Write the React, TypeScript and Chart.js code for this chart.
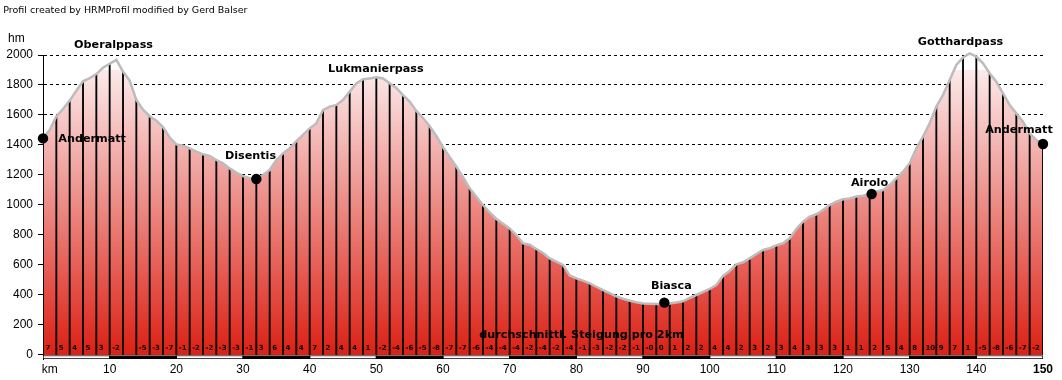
import React, { useEffect, useRef } from 'react';
import { Chart, registerables } from 'chart.js';

Chart.register(...registerables);

// ---------------- data ----------------
const chartTitle = 'Profil created by HRMProfil modified by Gerd Balser';
const yUnit = 'hm';
const footLabel = 'durchschnittl. Steigung pro 2km';

// elevation (m) at every km, km 0 ... 150
const elevations = [
  1444, 1500, 1590, 1640, 1696, 1762, 1825, 1845, 1873, 1915,
  1942, 1968, 1890, 1830, 1700, 1635, 1592, 1562, 1520, 1450,
  1404, 1396, 1378, 1356, 1338, 1327, 1300, 1278, 1244, 1216,
  1193, 1178, 1175, 1200, 1233, 1300, 1344, 1378, 1425, 1467,
  1511, 1544, 1633, 1656, 1667, 1700, 1756, 1811, 1838, 1844,
  1851, 1844, 1811, 1780, 1733, 1690, 1627, 1580, 1525, 1460,
  1385, 1320, 1256, 1185, 1111, 1055, 1000, 950, 907, 875,
  844, 800, 744, 735, 707, 680, 644, 622, 600, 530,
  511, 496, 478, 455, 433, 412, 391, 375, 362, 352,
  344, 342, 340, 340, 344, 350, 358, 380, 400, 420,
  440, 467, 527, 560, 604, 618, 644, 673, 700, 712,
  731, 745, 778, 840, 889, 922, 938, 967, 1000, 1022,
  1038, 1044, 1056, 1062, 1073, 1089, 1100, 1133, 1178, 1222,
  1278, 1378, 1456, 1544, 1656, 1733, 1833, 1933, 1984, 2011,
  1989, 1944, 1878, 1822, 1744, 1667, 1611, 1556, 1478, 1433,
  1407,
];

// average gradient (%) per 2 km segment
const gradientLabels = [
  '7', '5', '4', '5', '3', '-2', '', '-5', '-3', '-7',
  '-1', '-2', '-2', '-3', '-3', '-1', '3', '6', '4', '4',
  '7', '2', '4', '4', '1', '-2', '-4', '-6', '-5', '-8',
  '-7', '-7', '-6', '-4', '-4', '-4', '-2', '-4', '-2', '-4',
  '-1', '-3', '-2', '-2', '-1', '-0', '0', '1', '2', '2',
  '4', '4', '2', '3', '2', '3', '4', '3', '3', '3',
  '1', '1', '2', '5', '4', '8', '10', '9', '7', '1',
  '-5', '-8', '-6', '-7', '-2',
];

const placeNames = ['Andermatt', 'Disentis', 'Biasca', 'Airolo', 'Andermatt'];
const placeKm = [0, 32, 93.2, 124.3, 150];
const placeElev = [1444, 1173, 349, 1073, 1407];

const passNames = ['Oberalppass', 'Lukmanierpass', 'Gotthardpass'];

const kmBarCenters = [5, 15, 25, 35, 45, 55, 65, 75, 85, 95, 105, 115, 125, 135, 145];

const xTickValues = [1, 10, 20, 30, 40, 50, 60, 70, 80, 90, 100, 110, 120, 130, 140, 150];
const xTickLabels = ['km', '10', '20', '30', '40', '50', '60', '70', '80', '90', '100', '110', '120', '130', '140', '150'];
const yTickValues = [0, 200, 400, 600, 800, 1000, 1200, 1400, 1600, 1800, 2000];

const segmentKm = 2;
const yMin = -26.67;
const yMax = 2000;
const xMax = 150;

// ---------------- layout / style (pixels) ----------------
const placeLabelPos = [
  { x: 58.3, y: 142, align: 'left' },
  { x: 250.5, y: 158.7, align: 'center' },
  { x: 671.3, y: 289, align: 'center' },
  { x: 869.5, y: 186, align: 'center' },
  { x: 1019, y: 133.3, align: 'center' },
];
const passLabelPos = [
  { x: 113.5, y: 48 },
  { x: 375.8, y: 72.3 },
  { x: 960.5, y: 45 },
];

const textPlugin = {
  id: 'profileTexts',
  afterDraw(chart: any) {
    const { ctx, scales } = chart;
    const xs = scales.x;
    const ys = scales.y;
    ctx.save();
    ctx.fillStyle = '#000';
    ctx.textBaseline = 'alphabetic';

    ctx.textAlign = 'left';
    ctx.font = '9.5px "DejaVu Sans"';
    ctx.fillText(chartTitle, 3.3, 13.3);

    ctx.font = '12px "Liberation Sans"';
    ctx.fillText(yUnit, 8, 41.7);

    // gradient per segment
    ctx.font = 'bold 7px "DejaVu Sans"';
    ctx.textBaseline = 'middle';
    const y0 = ys.getPixelForValue(0);
    gradientLabels.forEach((g, i) => {
      const px = xs.getPixelForValue(i * segmentKm);
      ctx.fillText(g, px + 2.5, y0 - 6.7);
    });

    ctx.textBaseline = 'alphabetic';
    ctx.font = 'bold 11.2px "DejaVu Sans"';
    placeNames.forEach((n, i) => {
      const p = placeLabelPos[i];
      ctx.textAlign = p.align;
      ctx.fillText(n, p.x, p.y);
    });
    ctx.textAlign = 'center';
    passNames.forEach((n, i) => {
      const p = passLabelPos[i];
      ctx.fillText(n, p.x, p.y);
    });
    ctx.fillText(footLabel, 581.5, 338);
    ctx.restore();
  },
};

export default function App() {
  const canvasRef = useRef<HTMLCanvasElement | null>(null);

  useEffect(() => {
    const canvas = canvasRef.current;
    if (!canvas) return;

    const profileData = elevations.map((e, i) => ({ x: i, y: e }));
    const stationData = elevations
      .map((e, i) => ({ x: i, y: [0, e] }))
      .filter((_, i) => i % segmentKm === 0);
    const kmBarData = kmBarCenters.map((c) => ({ x: c, y: [yMin, 0] }));
    const placeData = placeKm.map((k, i) => ({ x: k, y: placeElev[i] }));

    const chart = new Chart(canvas, {
      type: 'line',
      data: {
        datasets: [
          {
            type: 'scatter',
            label: 'Orte',
            data: placeData,
            pointRadius: 5.2,
            pointBackgroundColor: '#000',
            pointBorderWidth: 0,
            backgroundColor: '#000',
            order: 0,
            clip: false,
          } as any,
          {
            type: 'line',
            label: 'Höhe',
            data: profileData,
            borderColor: '#bcbcbc',
            borderWidth: 2.5,
            pointRadius: 0,
            tension: 0,
            fill: 'origin',
            clip: false,
            order: 1,
            backgroundColor: (c: any) => {
              const { chart: ch } = c;
              const area = ch.chartArea;
              if (!area) return 'rgba(0,0,0,0)';
              const yTop = ch.scales.y.getPixelForValue(2000);
              const yBot = ch.scales.y.getPixelForValue(0);
              const g = ch.ctx.createLinearGradient(0, yTop, 0, yBot);
              g.addColorStop(0, '#ffffff');
              g.addColorStop(0.05, '#ffffff');
              g.addColorStop(0.0505, 'rgb(251,234,234)');
              g.addColorStop(1, 'rgb(220,32,20)');
              return g;
            },
          } as any,
          {
            type: 'bar',
            label: 'Stationen',
            data: stationData,
            backgroundColor: '#000',
            borderWidth: 0,
            barThickness: 1.2,
            grouped: false,
            order: 2,
          } as any,
          {
            type: 'bar',
            label: 'km',
            data: kmBarData,
            backgroundColor: (c: any) => (c.dataIndex % 2 === 0 ? '#ffffff' : '#000000'),
            borderColor: '#000',
            borderWidth: 1,
            borderSkipped: false,
            barThickness: 1000 / 15,
            grouped: false,
            order: 3,
          } as any,
        ],
      },
      options: {
        responsive: false,
        animation: false,
        devicePixelRatio: 1,
        layout: { padding: { left: 0, right: 19, top: 55, bottom: 0 } },
        plugins: {
          legend: { display: false },
          tooltip: { enabled: false },
          filler: { drawTime: 'beforeDatasetsDraw' },
        } as any,
        scales: {
          x: {
            type: 'linear',
            min: 0,
            max: xMax,
            offset: false,
            afterBuildTicks: (s: any) => {
              s.ticks = xTickValues.map((v) => ({ value: v }));
            },
            afterFit: (s: any) => {
              s.height = 21;
            },
            ticks: {
              color: '#000',
              autoSkip: false,
              maxRotation: 0,
              padding: 3,
              callback: (v: any) => {
                const idx = xTickValues.indexOf(Number(v));
                return idx >= 0 ? xTickLabels[idx] : '';
              },
              font: (c: any) => ({
                family: 'Liberation Sans',
                size: 12,
                weight: c.tick && c.tick.value === xMax ? 'bold' : 'normal',
              }),
            },
            grid: { display: false, drawTicks: false },
            border: { display: false },
          } as any,
          y: {
            type: 'linear',
            min: yMin,
            max: yMax,
            z: 1,
            afterBuildTicks: (s: any) => {
              s.ticks = yTickValues.map((v) => ({ value: v }));
            },
            afterFit: (s: any) => {
              s.width = 43;
            },
            ticks: {
              color: '#000',
              autoSkip: false,
              padding: 5,
              font: { family: 'Liberation Sans', size: 12 },
              callback: (v: any) => String(Math.round(Number(v))),
            },
            grid: {
              color: (c: any) => (c.tick && c.tick.value === 0 ? 'rgba(0,0,0,0)' : '#000'),
              lineWidth: 1,
              tickLength: 5,
              tickColor: '#000',
              tickBorderDash: [],
            },
            border: { display: true, color: '#000', width: 1, dash: [3, 3] },
          } as any,
        },
      },
      plugins: [textPlugin as any],
    });

    return () => chart.destroy();
  }, []);

  return (
    <div style={{ position: 'absolute', left: 0, top: 0, width: 1062, height: 380, background: '#fff' }}>
      <canvas ref={canvasRef} width={1062} height={380} style={{ display: 'block', width: 1062, height: 380 }} />
    </div>
  );
}
